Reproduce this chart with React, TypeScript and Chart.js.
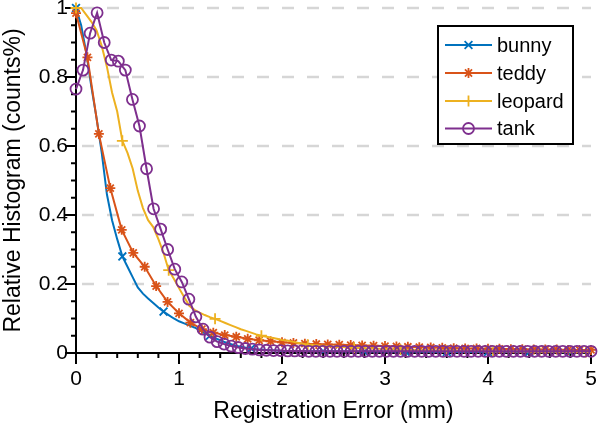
import React, { useEffect, useRef } from 'react';
import { Chart, registerables } from 'chart.js';

Chart.register(...registerables);

// ---------------- data ----------------
const seriesNames = ['bunny', 'teddy', 'leopard', 'tank'];

const bunnyX = [0, 0.05, 0.1, 0.15, 0.2, 0.25, 0.3, 0.35, 0.4, 0.45, 0.5, 0.55, 0.6, 0.65, 0.7, 0.75, 0.8, 0.85, 0.9, 0.95, 1.0,
  1.05, 1.1, 1.15, 1.2, 1.25, 1.3, 1.35, 1.4, 1.45, 1.5, 1.55, 1.6, 1.65, 1.7, 1.75, 1.8, 1.85, 1.9, 1.95, 2.0,
  2.4, 2.8, 3.2, 3.6, 4.0, 4.4, 4.8, 5.0];
const bunnyY = [1.0, 0.95, 0.87, 0.77, 0.68, 0.58, 0.46, 0.385, 0.33, 0.28, 0.25, 0.22, 0.19, 0.172, 0.158, 0.145, 0.132, 0.12, 0.11, 0.1, 0.092,
  0.086, 0.08, 0.074, 0.066, 0.057, 0.05, 0.043, 0.037, 0.031, 0.026, 0.021, 0.018, 0.015, 0.013, 0.011, 0.01, 0.009, 0.008, 0.007, 0.006,
  0.005, 0.004, 0.004, 0.003, 0.003, 0.003, 0.002, 0.002];
const bunnyMarks = [0, 9, 17, 26, 34, 41, 42, 43, 44, 45, 46, 47];

const teddyX = [0, 0.111, 0.222, 0.333, 0.444, 0.556, 0.667, 0.778, 0.889, 1, 1.111, 1.222, 1.333, 1.444, 1.556, 1.667, 1.778, 1.889,
  2, 2.111, 2.222, 2.333, 2.444, 2.556, 2.667, 2.778, 2.889, 3, 3.111, 3.222, 3.333, 3.444, 3.556, 3.667, 3.778, 3.889,
  4, 4.111, 4.222, 4.333, 4.444, 4.556, 4.667, 4.778, 4.889, 5];
const teddyY = [0.985, 0.857, 0.635, 0.478, 0.357, 0.29, 0.25, 0.194, 0.148, 0.115, 0.088, 0.069, 0.059, 0.052, 0.047, 0.041, 0.037, 0.034,
  0.031, 0.029, 0.027, 0.026, 0.025, 0.024, 0.023, 0.022, 0.021, 0.02, 0.019, 0.018, 0.017, 0.016, 0.015, 0.014, 0.013, 0.013,
  0.012, 0.012, 0.011, 0.011, 0.01, 0.01, 0.01, 0.009, 0.009, 0.009];

const leopardX = [0, 0.05, 0.1, 0.15, 0.2, 0.25, 0.3, 0.35, 0.4, 0.45, 0.5, 0.55, 0.6, 0.65, 0.7, 0.75, 0.8, 0.85, 0.9, 0.95, 1.0,
  1.05, 1.1, 1.15, 1.2, 1.25, 1.3, 1.35, 1.4, 1.45, 1.5, 1.55, 1.6, 1.65, 1.7, 1.75, 1.8, 1.85, 1.9, 1.95, 2.0,
  2.05, 2.1, 2.15, 2.2, 2.25, 2.7, 3.15, 3.6, 4.05, 4.5, 4.95, 5.0];
const leopardY = [1.0, 1.0, 0.98, 0.96, 0.935, 0.89, 0.83, 0.755, 0.7, 0.615, 0.58, 0.535, 0.47, 0.42, 0.385, 0.365, 0.33, 0.29, 0.24, 0.215, 0.188,
  0.162, 0.137, 0.125, 0.117, 0.11, 0.104, 0.099, 0.093, 0.087, 0.081, 0.075, 0.069, 0.064, 0.059, 0.054, 0.05, 0.047, 0.044, 0.041, 0.038,
  0.036, 0.033, 0.03, 0.027, 0.024, 0.015, 0.01, 0.007, 0.005, 0.004, 0.003, 0.003];
const leopardMarks = [0, 9, 18, 27, 36, 45, 46, 47, 48, 49, 50, 51];

const tankX = [0, 0.068, 0.137, 0.205, 0.274, 0.342, 0.411, 0.479, 0.548, 0.616, 0.685, 0.753, 0.822, 0.89, 0.959,
  1.027, 1.096, 1.164, 1.233, 1.301, 1.37, 1.438, 1.507, 1.575, 1.644, 1.712, 1.781, 1.849, 1.918, 1.986,
  2.055, 2.123, 2.192, 2.26, 2.329, 2.397, 2.466, 2.534, 2.603, 2.671, 2.74, 2.808, 2.877, 2.945,
  3.014, 3.082, 3.151, 3.219, 3.288, 3.356, 3.425, 3.493, 3.562, 3.63, 3.699, 3.767, 3.836, 3.904, 3.973,
  4.041, 4.11, 4.178, 4.247, 4.315, 4.384, 4.452, 4.521, 4.589, 4.658, 4.726, 4.795, 4.863, 4.932, 5];
const tankY = [0.765, 0.82, 0.927, 0.986, 0.9, 0.849, 0.846, 0.82, 0.735, 0.658, 0.534, 0.418, 0.359, 0.3, 0.243,
  0.206, 0.156, 0.105, 0.069, 0.046, 0.033, 0.026, 0.02, 0.016, 0.013, 0.011, 0.009, 0.008, 0.007, 0.007,
  0.006, 0.006, 0.006, 0.005, 0.005, 0.005, 0.005, 0.005, 0.005, 0.005, 0.005, 0.005, 0.005, 0.005,
  0.005, 0.005, 0.005, 0.005, 0.005, 0.005, 0.005, 0.005, 0.005, 0.005, 0.005, 0.005, 0.005, 0.005, 0.005,
  0.005, 0.005, 0.005, 0.005, 0.005, 0.005, 0.005, 0.005, 0.005, 0.005, 0.005, 0.005, 0.005, 0.005, 0.005];

const xTicks = [0, 1, 2, 3, 4, 5];
const yTicks = [0, 0.2, 0.4, 0.6, 0.8, 1];
const yTickLabels = ['0', '0.2', '0.4', '0.6', '0.8', '1'];
const xTitle = 'Registration Error (mm)';
const yTitle = 'Relative Histogram (counts%)';

// ---------------- styles ----------------
const FONT = "'Liberation Sans', Arial, Helvetica, sans-serif";
const colors = ['#0072BD', '#D95319', '#EDB120', '#7E2F8E'];
const markerStyles = ['crossRot', 'star', 'cross', 'circle'];
const markerRadii = [5.5, 5, 5.5, 5.5];

function drawMarker(ctx: CanvasRenderingContext2D, style: string, x: number, y: number, r: number, color: string) {
  ctx.save();
  ctx.strokeStyle = color;
  ctx.lineWidth = 1.8;
  ctx.setLineDash([]);
  ctx.beginPath();
  const d = r * Math.SQRT1_2;
  if (style === 'circle') {
    ctx.arc(x, y, r, 0, Math.PI * 2);
  }
  if (style === 'cross' || style === 'star') {
    ctx.moveTo(x - r, y); ctx.lineTo(x + r, y);
    ctx.moveTo(x, y - r); ctx.lineTo(x, y + r);
  }
  if (style === 'crossRot' || style === 'star') {
    ctx.moveTo(x - d, y - d); ctx.lineTo(x + d, y + d);
    ctx.moveTo(x - d, y + d); ctx.lineTo(x + d, y - d);
  }
  ctx.stroke();
  ctx.restore();
}

const axesPlugin = {
  id: 'matlabAxes',
  beforeDatasetsDraw(chart: any) {
    const { ctx, chartArea, scales } = chart;
    const { left, right, top, bottom } = chartArea;
    const xs = scales.x, ys = scales.y;
    ctx.save();
    // dashed horizontal grid
    ctx.strokeStyle = '#d6d6d6';
    ctx.lineWidth = 2.5;
    ctx.setLineDash([12, 13]);
    ctx.lineDashOffset = 19;
    for (const v of yTicks) {
      if (v === 0) continue;
      const py = ys.getPixelForValue(v);
      ctx.beginPath();
      ctx.moveTo(left, py);
      ctx.lineTo(right, py);
      ctx.stroke();
    }
    ctx.setLineDash([]);
    // axes lines
    ctx.strokeStyle = '#000';
    ctx.lineWidth = 2;
    ctx.beginPath();
    ctx.moveTo(left, top);
    ctx.lineTo(left, bottom);
    ctx.lineTo(right + 1, bottom);
    ctx.stroke();
    // y ticks (major + minor, outward)
    for (let i = 0; i <= 20; i++) {
      const v = i * 0.05;
      const py = ys.getPixelForValue(v);
      const major = i % 4 === 0;
      ctx.beginPath();
      ctx.moveTo(left, py);
      ctx.lineTo(left - (major ? 11 : 5), py);
      ctx.stroke();
    }
    // x ticks (major + minor, outward)
    for (let i = 0; i <= 25; i++) {
      const v = i * 0.2;
      const px = xs.getPixelForValue(v);
      const major = i % 5 === 0;
      ctx.beginPath();
      ctx.moveTo(px, bottom);
      ctx.lineTo(px, bottom + (major ? 11 : 5));
      ctx.stroke();
    }
    ctx.restore();
  },
  afterDraw(chart: any) {
    const { ctx } = chart;
    ctx.save();
    const bx = 438, by = 26, bw = 135, bh = 118;
    ctx.fillStyle = '#fff';
    ctx.fillRect(bx, by, bw, bh);
    ctx.strokeStyle = '#000';
    ctx.lineWidth = 2;
    ctx.strokeRect(bx, by, bw, bh);
    const rows = [45, 73, 101, 128.5];
    ctx.font = `20px ${FONT}`;
    ctx.textBaseline = 'middle';
    ctx.textAlign = 'left';
    seriesNames.forEach((name, i) => {
      const ry = rows[i];
      ctx.strokeStyle = colors[i];
      ctx.lineWidth = 2;
      ctx.beginPath();
      ctx.moveTo(445, ry);
      ctx.lineTo(492, ry);
      ctx.stroke();
      drawMarker(ctx, markerStyles[i], 468.5, ry, markerRadii[i], colors[i]);
      ctx.fillStyle = '#000';
      ctx.fillText(name, 497, ry + 1);
    });
    ctx.restore();
  },
};

function makeDataset(i: number, xsArr: number[], ysArr: number[], marks: number[] | null, order: number) {
  return {
    label: seriesNames[i],
    data: xsArr.map((x, k) => ({ x, y: ysArr[k] })),
    borderColor: colors[i],
    backgroundColor: 'rgba(0,0,0,0)',
    borderWidth: 2,
    pointStyle: markerStyles[i],
    pointRadius: (ctx: any) => (marks === null || marks.includes(ctx.dataIndex) ? markerRadii[i] : 0),
    pointBorderWidth: 1.8,
    pointBorderColor: colors[i],
    pointBackgroundColor: 'rgba(0,0,0,0)',
    pointHoverRadius: 0,
    tension: 0,
    clip: false as any,
    order,
  };
}

export default function App() {
  const canvasRef = useRef<HTMLCanvasElement>(null);

  useEffect(() => {
    document.body.style.margin = '0';
    const canvas = canvasRef.current;
    if (!canvas) return;
    const chart = new Chart(canvas, {
      type: 'line',
      data: {
        datasets: [
          makeDataset(0, bunnyX, bunnyY, bunnyMarks, 3),
          makeDataset(1, teddyX, teddyY, null, 2),
          makeDataset(2, leopardX, leopardY, leopardMarks, 1),
          makeDataset(3, tankX, tankY, null, 0),
        ] as any,
      },
      options: {
        animation: false,
        responsive: false,
        devicePixelRatio: 1,
        events: [],
        layout: { padding: { left: 0, right: 9, top: 8, bottom: 0 } },
        plugins: { legend: { display: false }, tooltip: { enabled: false } },
        scales: {
          x: {
            type: 'linear',
            min: 0,
            max: 5,
            afterBuildTicks: (s: any) => { s.ticks = xTicks.map((v) => ({ value: v })); },
            ticks: {
              color: '#000',
              font: { family: FONT, size: 21 },
              padding: 14,
              maxRotation: 0,
              callback: (v: any) => String(v),
            },
            grid: { display: false, drawTicks: false },
            border: { display: false },
            title: {
              display: true,
              text: xTitle,
              color: '#000',
              font: { family: FONT, size: 23 },
              padding: { top: 0, bottom: 7 },
            },
            afterFit: (s: any) => {
              s.height = 79;
              s.paddingLeft = 0; s.paddingRight = 0;
            },
          },
          y: {
            type: 'linear',
            min: 0,
            max: 1,
            afterBuildTicks: (s: any) => { s.ticks = yTicks.map((v) => ({ value: v })); },
            ticks: {
              color: '#000',
              font: { family: FONT, size: 21 },
              padding: 8,
              callback: (v: any) => {
                const idx = yTicks.findIndex((t) => Math.abs(t - v) < 1e-9);
                return idx >= 0 ? yTickLabels[idx] : '';
              },
            },
            grid: { display: false, drawTicks: false },
            border: { display: false },
            title: {
              display: true,
              text: yTitle,
              color: '#000',
              font: { family: FONT, size: 23 },
              padding: { top: 0, bottom: 0 },
            },
            afterFit: (s: any) => {
              s.width = 76;
              s.paddingTop = 0; s.paddingBottom = 0;
            },
          },
        },
      },
      plugins: [axesPlugin],
    });
    return () => chart.destroy();
  }, []);

  return (
    <div style={{ position: 'fixed', left: 0, top: 0, width: 600, height: 432, background: '#fff' }}>
      <canvas ref={canvasRef} width={600} height={432} style={{ width: 600, height: 432 }} />
    </div>
  );
}
